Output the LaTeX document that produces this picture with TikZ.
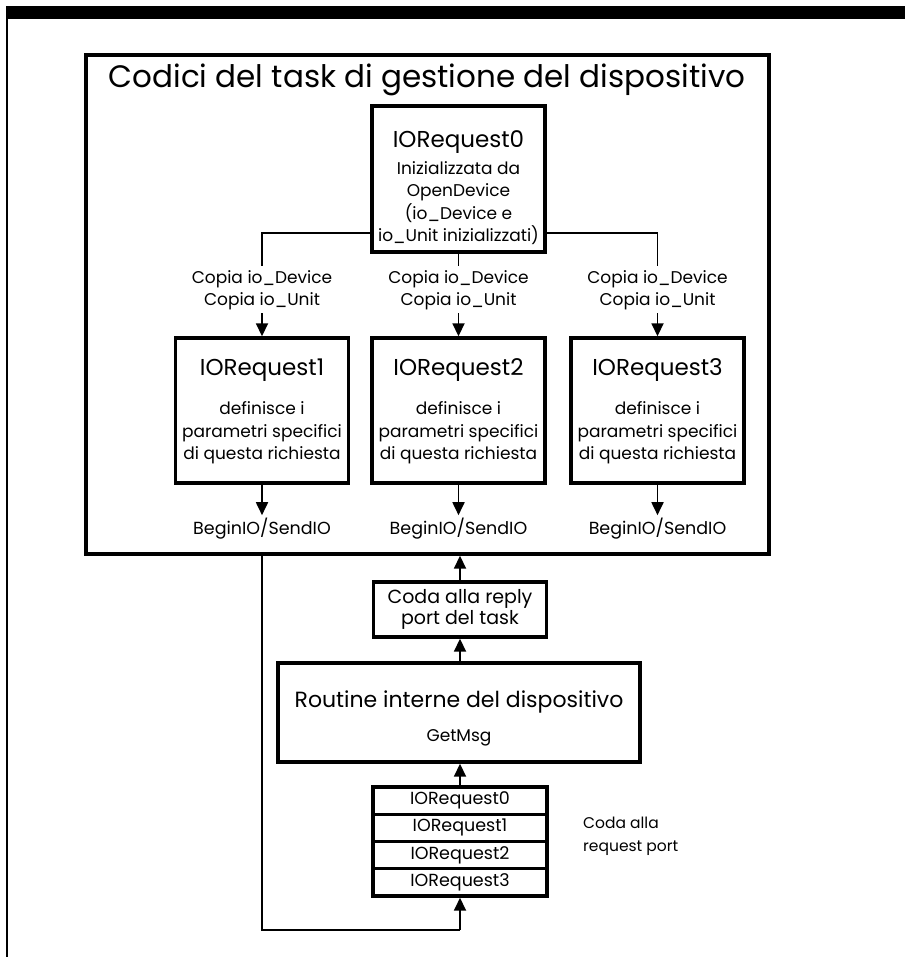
\documentclass[tikz,border=0pt]{standalone}
\usepackage{fontspec}
\setmainfont{Poppins}
\usetikzlibrary{arrows.meta}
\begin{document}
\begin{tikzpicture}[x=1pt,y=-1pt,
  thickbox/.style={draw,line width=3.4pt,rectangle,inner sep=0pt},
  big/.style={font=\fontsize{23}{26}\selectfont,inner sep=0pt},
  small/.style={font=\fontsize{17}{22.3}\selectfont,align=center,inner sep=0pt},
  conn/.style={line width=1.8pt},
  arr/.style={line width=1.8pt,-{Triangle[width=12pt,length=13pt]}}]
\useasboundingbox (0,0) rectangle (905,957);
% outer frame
\fill (6,6) rectangle (905,19);
\draw[line width=2.2pt] (7,19) -- (7,957);
% main box
\node[thickbox,minimum width=683pt,minimum height=499pt] (main) at (427.5,304.5) {};
\node[font=\fontsize{31}{34}\selectfont,inner sep=0pt] (title) at (427,80) {Codici del task di gestione del dispositivo};
% IORequest0
\node[thickbox,minimum width=173pt,minimum height=146pt] (r0) at (458.5,179) {};
\node[big] (r0t) at (458.5,142) {IORequest0};
\node[small] (r0s) at (458.5,203) {Inizializzata da\\OpenDevice\\(io\_Device e\\io\_Unit inizializzati)};
% three boxes
\foreach \i/\x in {1/262,2/458.5,3/657.5}{
  \node[thickbox,minimum width=173pt,minimum height=145pt] (r\i) at (\x,410.5) {};
  \node[big] (r\i t) at (\x,370) {IORequest\i};
  \node[small] (r\i s) at (\x,433) {definisce i\\parametri specifici\\di questa richiesta};
  \node[small] (c\i) at (\x,290) {Copia io\_Device\\Copia io\_Unit};
  \node[small,font=\fontsize{17.5}{22}\selectfont] (b\i) at (\x,529) {BeginIO/SendIO};
  \draw[arr] ([yshift=-3pt]c\i.south) -- (r\i.north);
  \draw[arr] (r\i.south) -- ([yshift=3pt]b\i.north);
}
% branch lines
\coordinate (bl) at (262,233);
\coordinate (br) at (657.5,233);
\draw[conn] (r0.west |- bl) -- (bl) -- ([yshift=4pt]c1.north);
\draw[conn] (r0.east |- br) -- (br) -- ([yshift=4pt]c3.north);
\draw[conn] (r0.south) -- ([yshift=4pt]c2.north);
% reply box
\node[thickbox,minimum width=173pt,minimum height=55pt,align=center,font=\fontsize{19}{20.5}\selectfont] (reply) at (460,609.5) {Coda alla reply\\port del task};
\draw[arr] (reply.north) -- (reply.north |- main.south);
% routine box
\node[thickbox,minimum width=362pt,minimum height=99pt] (rout) at (459,712.5) {};
\node[font=\fontsize{22}{26}\selectfont,inner sep=0pt] (routt) at (459,702) {Routine interne del dispositivo};
\node[small] (getmsg) at (459,738) {GetMsg};
\draw[arr] (reply.south |- rout.north) -- (reply.south);
% queue
\foreach \j/\y in {0/800.6,1/827.9,2/855.1,3/882.4}{
  \node[thickbox,minimum width=174pt,minimum height=27.25pt,font=\fontsize{17.5}{20}\selectfont] (q\j) at (460,\y) {IORequest\j};
}
\draw[arr] (q0.north) -- (q0.north |- rout.south);
\node[align=left,anchor=west,inner sep=0pt,font=\fontsize{15.5}{23}\selectfont] (ql) at (583,836) {Coda alla\\request port};
% feedback
\coordinate (fb1) at (262,930);
\coordinate (fb2) at (460,930);
\draw[conn] (main.south -| fb1) -- (fb1) -- (fb2);
\draw[arr] (fb2) -- (q3.south);
\end{tikzpicture}
\end{document}
